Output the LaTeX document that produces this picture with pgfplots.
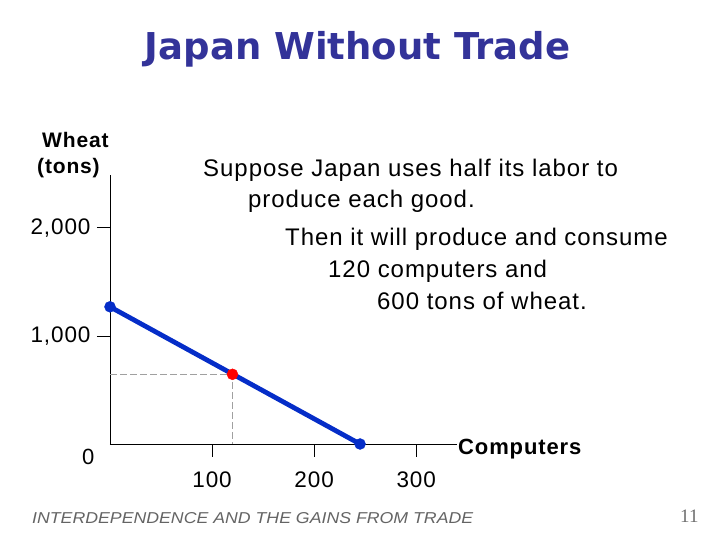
\documentclass[border=0pt]{standalone}
\usepackage{pgfplots}
\pgfplotsset{compat=1.18}
\usepackage{fontspec}
\setmainfont[LetterSpace=4]{Liberation Sans}
\newfontfamily\titlefont{DejaVu Sans}
\newfontfamily\pagefont{Liberation Serif}
\newfontfamily\footfont{Liberation Sans}
\definecolor{titleblue}{RGB}{51,51,153}
\definecolor{ppfblue}{RGB}{5,45,200}
\definecolor{dashgray}{RGB}{160,160,160}

\begin{document}
\begin{tikzpicture}
\path[use as bounding box] (0pt,0pt) rectangle (720pt,540pt);

\begin{axis}[
    at={(110pt,96pt)}, anchor=south west,
    scale only axis,
    width=347pt, height=269pt,
    xmin=0, xmax=340,
    ymin=0, ymax=2490,
    axis x line=bottom, axis y line=left,
    axis line style={-, black, line width=0.9pt},
    xtick={100,200,300},
    ytick={1000,2000},
    tick align=outside,
    major tick length=13pt,
    tick style={black, line width=0.9pt},
    /pgf/number format/assume math mode=true,
    /pgf/number format/1000 sep={,},
    ticklabel style={font=\fontsize{22.5}{26}\selectfont},
    xticklabel style={yshift=-11pt},
    yticklabel style={xshift=-3pt},
    clip=false,
]
% production possibilities frontier (half labor in each good)
\addplot[ppfblue, line width=4.8pt] coordinates {(0,1270) (245,0)};
\addplot[only marks, mark=*, mark size=5.5pt,
    mark options={fill=ppfblue, draw=ppfblue, solid, line width=0.4pt}]
    coordinates {(0,1270) (245,0)};
% consumption point guides
\addplot[dashgray, line width=0.8pt, dash pattern=on 7pt off 3pt]
    coordinates {(0,645) (120,645) (120,0)};
% chosen point
\addplot[only marks, mark=*, mark size=5.5pt,
    mark options={fill=red, draw=red, solid, line width=0.4pt}]
    coordinates {(120,645)};
\end{axis}

% title
\node[anchor=base, text=titleblue, font=\titlefont\bfseries\fontsize{37}{40}\selectfont]
    at (357.5pt,480pt) {Japan Without Trade};

% axis titles
\node[anchor=base west, inner sep=0pt, font=\bfseries\fontsize{21}{24}\selectfont]
    at (42pt,392pt) {Wheat};
\node[anchor=base west, inner sep=0pt, font=\bfseries\fontsize{21}{24}\selectfont]
    at (37pt,366pt) {(tons)};
\node[anchor=base west, inner sep=0pt, font=\bfseries\fontsize{22}{24}\selectfont]
    at (458pt,85pt) {Computers};
\node[anchor=base west, inner sep=0pt, font=\fontsize{22}{24}\selectfont]
    at (82pt,75pt) {0};

% annotation
\begin{scope}[every node/.style={anchor=base west, inner sep=0pt, font=\fontsize{24}{26}\selectfont}]
\node at (203pt,363pt) {Suppose Japan uses half its labor to};
\node at (248pt,332pt) {produce each good.};
\node at (285pt,294pt) {Then it will produce and consume};
\node at (328pt,262pt) {120 computers and};
\node at (377pt,230pt) {600 tons of wheat.};
\end{scope}

% footer
\node[anchor=base west, inner sep=0pt, text={rgb,255:red,100;green,100;blue,100}]
    at (32pt,16pt) {\resizebox{441pt}{11pt}{\footfont\itshape INTERDEPENDENCE AND THE GAINS FROM TRADE}};
\node[anchor=base west, inner sep=0pt, text={rgb,255:red,110;green,110;blue,110},
    font=\pagefont\fontsize{19}{21}\selectfont]
    at (680pt,17pt) {11};
\end{tikzpicture}
\end{document}
